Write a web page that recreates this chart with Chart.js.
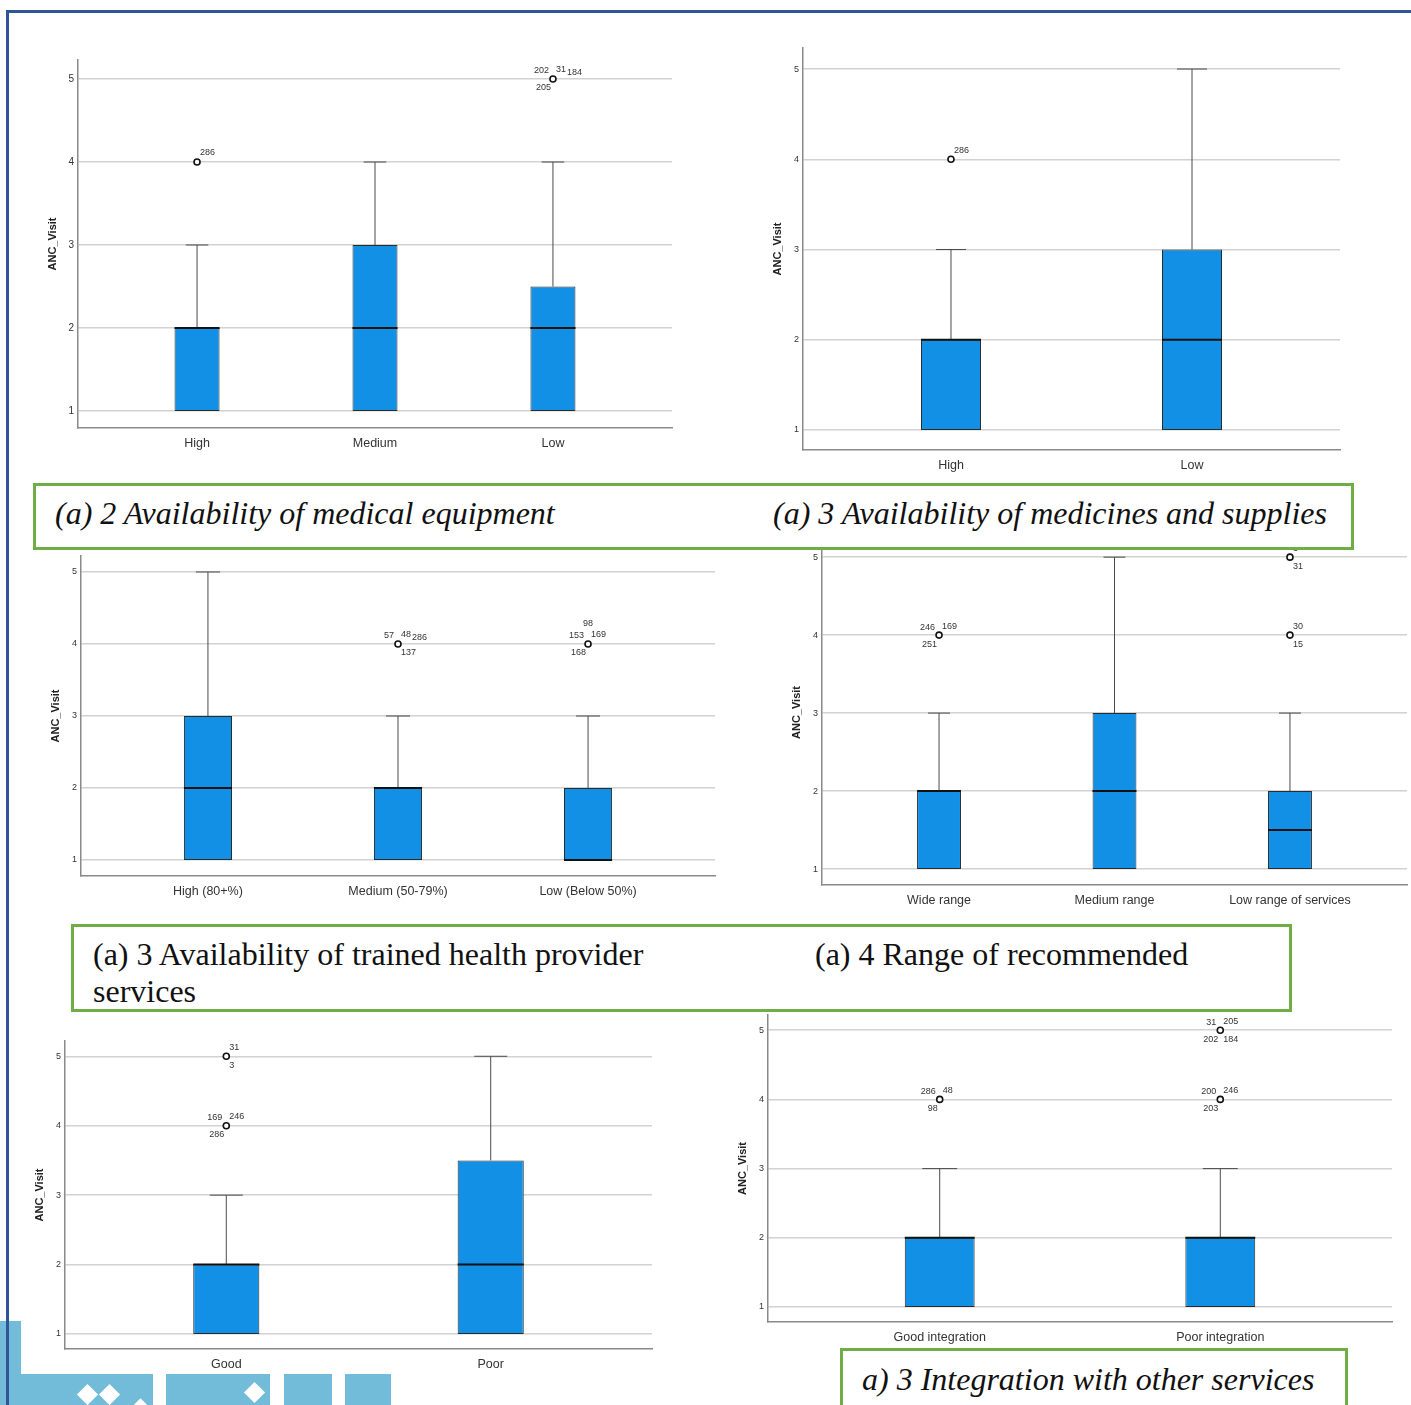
<!DOCTYPE html>
<html>
<head>
<meta charset="utf-8">
<script src="https://cdn.jsdelivr.net/npm/chart.js@4.4.0/dist/chart.umd.min.js"></script>
<style>
html, body { margin: 0; padding: 0; background: #fff; width: 1411px; height: 1405px; overflow: hidden; }
body { position: relative; }
canvas { position: absolute; }
.cap { position: absolute; box-sizing: border-box; border: 3px solid #70ad47; background: #fff; z-index: 5;
       font-family: "Liberation Serif", "Times New Roman", serif; font-size: 32px; color: #111; }
.cap span { position: absolute; white-space: nowrap; line-height: 36px; }
.it { font-style: italic; }
.blue { position: absolute; background: #72bbd9; }
.white { position: absolute; background: #fff; }
.dia { position: absolute; width: 15px; height: 15px; background: #fff; transform: rotate(45deg); }
.frame { position: absolute; background: #2f5597; z-index: 6; }
</style>
</head>
<body>

<div class="blue" style="left:0;top:1321px;width:21px;height:84px"></div>
<div class="blue" style="left:21px;top:1374px;width:370px;height:31px"></div>
<div class="white" style="left:153px;top:1374px;width:13px;height:31px"></div>
<div class="white" style="left:270px;top:1374px;width:14px;height:31px"></div>
<div class="white" style="left:332px;top:1374px;width:13px;height:31px"></div>
<div class="dia" style="left:80px;top:1387px"></div>
<div class="dia" style="left:102px;top:1387px"></div>
<div class="dia" style="left:247px;top:1385px"></div>
<div class="dia" style="left:136px;top:1400px;width:9px;height:9px"></div>

<div class="frame" style="left:7px;top:10px;width:1404px;height:3px"></div>
<div class="frame" style="left:6px;top:10px;width:3px;height:1395px"></div>

<canvas id="c1"></canvas>
<canvas id="c2"></canvas>
<canvas id="c3"></canvas>
<canvas id="c4"></canvas>
<canvas id="c5"></canvas>
<canvas id="c6"></canvas>

<div class="cap it" style="left:33px;top:483px;width:1321px;height:67px">
  <span style="left:19px;top:9px">(a) 2 Availability of medical equipment</span>
  <span style="left:737px;top:9px">(a) 3 Availability of medicines and supplies</span>
</div>
<div class="cap" style="left:71px;top:924px;width:1221px;height:88px">
  <span style="left:19px;top:9px">(a) 3 Availability of trained health provider</span>
  <span style="left:19px;top:46px">services</span>
  <span style="left:741px;top:9px">(a) 4 Range of recommended</span>
</div>
<div class="cap it" style="left:840px;top:1348px;width:508px;height:70px">
  <span style="left:19px;top:10px">a) 3 Integration with other services</span>
</div>

<script>
// ---- data ----
const yTicks = [1, 2, 3, 4, 5];

// (a) 2 medical equipment
const equipCats = ['High', 'Medium', 'Low'];
const equipQ1 = [1, 1, 1];
const equipMedian = [2, 2, 2];
const equipQ3 = [2, 3, 2.5];
const equipMin = [1, 1, 1];
const equipMax = [3, 4, 4];
const equipOutliers = [[1, 4, ['286']], [3, 5, ['202', '31', '184', '205']]];

// (a) 3 medicines and supplies
const medCats = ['High', 'Low'];
const medQ1 = [1, 1];
const medMedian = [2, 2];
const medQ3 = [2, 3];
const medMin = [1, 1];
const medMax = [3, 5];
const medOutliers = [[1, 4, ['286']]];

// (a) 3 trained health provider
const staffCats = ['High (80+%)', 'Medium (50-79%)', 'Low (Below 50%)'];
const staffQ1 = [1, 1, 1];
const staffMedian = [2, 2, 1];
const staffQ3 = [3, 2, 2];
const staffMin = [1, 1, 1];
const staffMax = [5, 3, 3];
const staffOutliers = [[2, 4, ['57', '48', '286', '137']], [3, 4, ['98', '153', '169', '168']]];

// (a) 4 range of recommended services
const rangeCats = ['Wide range', 'Medium range', 'Low range of services'];
const rangeQ1 = [1, 1, 1];
const rangeMedian = [2, 2, 1.5];
const rangeQ3 = [2, 3, 2];
const rangeMin = [1, 1, 1];
const rangeMax = [3, 5, 3];
const rangeOutliers = [[1, 4, ['246', '169', '251']], [3, 4, ['30', '15']], [3, 5, ['3', '31']]];

// bottom left, Good / Poor
const goodCats = ['Good', 'Poor'];
const goodQ1 = [1, 1];
const goodMedian = [2, 2];
const goodQ3 = [2, 3.5];
const goodMin = [1, 1];
const goodMax = [3, 5];
const goodOutliers = [[1, 5, ['31', '3']], [1, 4, ['169', '246', '286']]];

// (a) 3 integration with other services
const integCats = ['Good integration', 'Poor integration'];
const integQ1 = [1, 1];
const integMedian = [2, 2];
const integQ3 = [2, 2];
const integMin = [1, 1];
const integMax = [3, 3];
const integOutliers = [[1, 4, ['286', '48', '98']], [2, 5, ['31', '205', '202', '184']], [2, 4, ['200', '246', '203']]];

// ---- layout: where each id label sits around its circle ----
const equipSlots = [['ur'], ['ul', 'ur', 'ur2', 'll']];
const medSlots = [['ur']];
const staffSlots = [['ul', 'ur', 'ur2', 'lr'], ['t', 'ul', 'ur', 'll']];
const rangeSlots = [['ul', 'ur', 'll'], ['ur', 'lr'], ['ur', 'lr']];
const goodSlots = [['ur', 'lr'], ['ul', 'ur', 'll']];
const integSlots = [['ul', 'ur', 'll'], ['ul', 'ur', 'll', 'lr'], ['ul', 'ur', 'll']];

const slotPos = {
    ul: [-4, -8, 'right'],
    ur: [3, -9, 'left'],
    ll: [-2, 9, 'right'],
    lr: [3, 9, 'left'],
    t: [0, -20, 'center']
};

const FONT = '"Liberation Sans", Arial, sans-serif';
const PAD_TOP = 30, PAD_RIGHT = 10, Y_W = 36, X_H = 35;

function boxExtras(d) {
    return {
        id: 'boxExtras',
        afterDatasetsDraw(chart) {
            const ctx = chart.ctx;
            const xs = chart.scales.x, ys = chart.scales.y;
            const meta = chart.getDatasetMeta(0);
            ctx.save();
            d.q1.forEach((q1, i) => {
                const bar = meta.data[i];
                const w = bar.width;
                const x = xs.getPixelForValue(i + 1);
                const cap = w / 2;
                ctx.strokeStyle = '#4a4a4a';
                ctx.lineWidth = 1;
                ctx.beginPath();
                if (d.max[i] > d.q3[i]) {
                    ctx.moveTo(x, ys.getPixelForValue(d.q3[i]));
                    ctx.lineTo(x, ys.getPixelForValue(d.max[i]));
                    ctx.moveTo(x - cap / 2, ys.getPixelForValue(d.max[i]));
                    ctx.lineTo(x + cap / 2, ys.getPixelForValue(d.max[i]));
                }
                if (d.min[i] < q1) {
                    ctx.moveTo(x, ys.getPixelForValue(q1));
                    ctx.lineTo(x, ys.getPixelForValue(d.min[i]));
                    ctx.moveTo(x - cap / 2, ys.getPixelForValue(d.min[i]));
                    ctx.lineTo(x + cap / 2, ys.getPixelForValue(d.min[i]));
                }
                ctx.stroke();
                // median
                const my = ys.getPixelForValue(d.median[i]);
                ctx.strokeStyle = '#111';
                ctx.lineWidth = 2;
                ctx.beginPath();
                ctx.moveTo(x - w / 2, my);
                ctx.lineTo(x + w / 2, my);
                ctx.stroke();
            });
            // case id labels next to outliers
            ctx.fillStyle = '#333';
            ctx.font = '9px ' + FONT;
            ctx.textBaseline = 'middle';
            d.outliers.forEach((o, k) => {
                const px = xs.getPixelForValue(o[0]);
                const py = ys.getPixelForValue(o[1]);
                let urEnd = px + 3;
                o[2].forEach((id, j) => {
                    const slot = d.slots[k][j];
                    if (slot === 'ur2') {
                        ctx.textAlign = 'left';
                        ctx.fillText(id, urEnd + 1, py - 6);
                        return;
                    }
                    const s = slotPos[slot];
                    ctx.textAlign = s[2];
                    ctx.fillText(id, px + s[0], py + s[1]);
                    if (slot === 'ur') urEnd = px + s[0] + ctx.measureText(id).width;
                });
            });
            ctx.restore();
        }
    };
}

function boxChart(id, g, d) {
    const cv = document.getElementById(id);
    cv.width = g.R - g.L + Y_W + PAD_RIGHT;
    cv.height = g.B - g.T + PAD_TOP + X_H;
    cv.style.left = (g.L - Y_W) + 'px';
    cv.style.top = (g.T - PAD_TOP) + 'px';

    const boxes = d.cats.map((c, i) => ({ x: i + 1, y: [d.q1[i], d.q3[i]] }));
    const points = d.outliers.map(o => ({ x: o[0], y: o[1] }));

    return new Chart(cv.getContext('2d'), {
        type: 'bar',
        data: {
            datasets: [
                {
                    data: boxes,
                    backgroundColor: '#1290e6',
                    borderColor: '#2b2b2b',
                    borderWidth: 1,
                    borderSkipped: false,
                    categoryPercentage: 1,
                    barPercentage: g.bar,
                    order: 2
                },
                {
                    type: 'scatter',
                    data: points,
                    pointRadius: 3,
                    pointBorderWidth: 1.6,
                    pointBorderColor: '#111',
                    pointBackgroundColor: '#fff',
                    order: 1
                }
            ]
        },
        options: {
            responsive: false,
            animation: false,
            layout: { padding: { top: PAD_TOP, right: PAD_RIGHT, left: 0, bottom: 0 } },
            plugins: { legend: { display: false }, tooltip: { enabled: false } },
            scales: {
                x: {
                    type: 'linear',
                    offset: false,
                    min: g.xMin,
                    max: g.xMax,
                    afterBuildTicks: s => { s.ticks = d.cats.map((c, i) => ({ value: i + 1 })); },
                    afterFit: s => { s.height = X_H; },
                    grid: { display: false, drawTicks: false, offset: false },
                    border: { display: true, color: '#8a8a8a', width: 1.5 },
                    ticks: {
                        autoSkip: false, maxRotation: 0, padding: 8,
                        color: '#333', font: { family: FONT, size: 12.5 },
                        callback: v => d.cats[v - 1]
                    }
                },
                y: {
                    min: g.yMin,
                    max: g.yMax,
                    afterBuildTicks: s => { s.ticks = yTicks.map(v => ({ value: v })); },
                    afterFit: s => { s.width = Y_W; },
                    grid: { color: '#d2d2d2', lineWidth: 1.5, drawTicks: false },
                    border: { display: true, color: '#8a8a8a', width: 1.5 },
                    ticks: { padding: 4, color: '#333', font: { family: FONT, size: g.tick } },
                    title: {
                        display: true, text: 'ANC_Visit', color: '#222',
                        font: { family: FONT, size: 11, weight: 'bold' },
                        padding: { top: 4, bottom: 0 }
                    }
                }
            }
        },
        plugins: [boxExtras(d)]
    });
}

boxChart('c1',
    { L: 78, R: 672, T: 60, B: 428, xMin: 0.331, xMax: 3.669, yMin: 0.795, yMax: 5.229, bar: 0.253, tick: 10 },
    { cats: equipCats, q1: equipQ1, median: equipMedian, q3: equipQ3, min: equipMin, max: equipMax, outliers: equipOutliers, slots: equipSlots });

boxChart('c2',
    { L: 803, R: 1340, T: 48, B: 450, xMin: 0.386, xMax: 2.614, yMin: 0.778, yMax: 5.233, bar: 0.249, tick: 9 },
    { cats: medCats, q1: medQ1, median: medMedian, q3: medQ3, min: medMin, max: medMax, outliers: medOutliers, slots: medSlots });

boxChart('c3',
    { L: 81, R: 715, T: 556, B: 876, xMin: 0.332, xMax: 3.668, yMin: 0.778, yMax: 5.222, bar: 0.253, tick: 9 },
    { cats: staffCats, q1: staffQ1, median: staffMedian, q3: staffQ3, min: staffMin, max: staffMax, outliers: staffOutliers, slots: staffSlots });

boxChart('c4',
    { L: 822, R: 1407, T: 540, B: 885, xMin: 0.333, xMax: 3.667, yMin: 0.795, yMax: 5.22, bar: 0.25, tick: 9 },
    { cats: rangeCats, q1: rangeQ1, median: rangeMedian, q3: rangeQ3, min: rangeMin, max: rangeMax, outliers: rangeOutliers, slots: rangeSlots });

boxChart('c5',
    { L: 65, R: 652, T: 1041, B: 1349, xMin: 0.39, xMax: 2.61, yMin: 0.784, yMax: 5.22, bar: 0.25, tick: 9 },
    { cats: goodCats, q1: goodQ1, median: goodMedian, q3: goodQ3, min: goodMin, max: goodMax, outliers: goodOutliers, slots: goodSlots });

boxChart('c6',
    { L: 768, R: 1392, T: 1015, B: 1322, xMin: 0.388, xMax: 2.612, yMin: 0.783, yMax: 5.22, bar: 0.249, tick: 9 },
    { cats: integCats, q1: integQ1, median: integMedian, q3: integQ3, min: integMin, max: integMax, outliers: integOutliers, slots: integSlots });
</script>
</body>
</html>
